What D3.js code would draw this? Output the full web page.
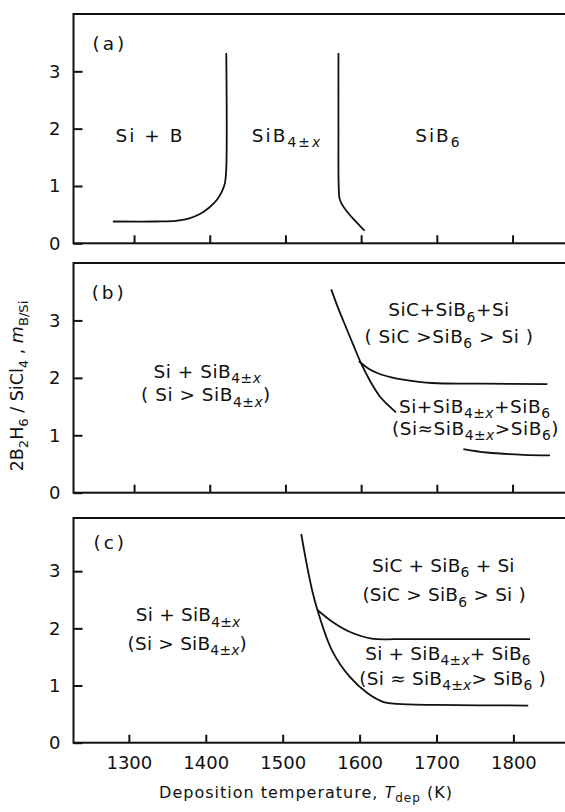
<!DOCTYPE html>
<html>
  <head>
    <meta http-equiv="Content-Type" content="text/html;charset=utf-8"/>
    <script type="text/javascript" src="https://cdn.jsdelivr.net/npm/d3@7"></script>
    <style type="text/css">
      body { margin: 0; background: #fff; }
      text { font-family: "DejaVu Sans", sans-serif; fill: #111; }
      .tick line { stroke: #111; stroke-width: 2; }
      .curve { fill: none; stroke: #111; stroke-width: 1.8; }
      .box { fill: none; stroke: #111; stroke-width: 2; }
    </style>
  </head>
  <body>
    <svg id="con" width="565" height="812"></svg>
    <script type="text/javascript">

    // tick values
    var xTicks = [1300, 1400, 1500, 1600, 1700, 1800];
    var yTicks = [0, 1, 2, 3];

    // (a) phase boundaries
    var aLeftT = [1272, 1330, 1355, 1372, 1387, 1399, 1409, 1416, 1420, 1421.8, 1421.8];
    var aLeftV = [0.38, 0.38, 0.39, 0.43, 0.51, 0.62, 0.75, 0.9, 1.05, 1.3, 3.32];
    var aRightT = [1570, 1570, 1570.3, 1571.5, 1575, 1581, 1590, 1598, 1604.5];
    var aRightV = [3.32, 2.0, 1.0, 0.78, 0.67, 0.56, 0.42, 0.31, 0.22];

    // (b) phase boundaries
    var bSteepT = [1560.5, 1570, 1580, 1590, 1600, 1612, 1625, 1636, 1646];
    var bSteepV = [3.54, 3.20, 2.88, 2.56, 2.25, 1.94, 1.67, 1.52, 1.40];
    var bUpperT = [1597, 1610, 1622, 1640, 1655.5, 1694, 1760, 1846];
    var bUpperV = [2.29, 2.16, 2.08, 2.01, 1.97, 1.91, 1.90, 1.89];
    var bLowerT = [1735, 1766, 1814, 1849.5];
    var bLowerV = [0.76, 0.70, 0.66, 0.65];

    // (c) phase boundaries
    var cSteepT = [1524.1, 1531, 1538.2, 1545.2, 1563.9, 1587.3, 1610.9, 1629.6, 1648.3, 1700, 1819.3];
    var cSteepV = [3.65, 3.14, 2.67, 2.32, 1.62, 1.15, 0.86, 0.72, 0.68, 0.66, 0.65];
    var cUpperT = [1545.2, 1564, 1587, 1615.5, 1648, 1720, 1821.7];
    var cUpperV = [2.32, 2.12, 1.94, 1.82, 1.81, 1.81, 1.81];

    // region labels: [text, style] pieces
    var SIB4 = [["SiB"], ["4", "sub"], ["±", "sub"], ["x", "subi"]];
    var SIB6 = [["SiB"], ["6", "sub"]];
    function cat() { return [].concat.apply([], arguments); }

    var panels = [
      {
        name: "(a)", tag: [1245, 3.48],
        curves: [[aLeftT, aLeftV], [aRightT, aRightV]],
        labels: [
          {at: [1321, 1.77], segs: [["Si + B"]]},
          {at: [1502, 1.77], segs: SIB4},
          {at: [1702, 1.77], segs: SIB6}
        ],
        spacing: 2
      },
      {
        name: "(b)", tag: [1244, 3.48],
        curves: [[bSteepT, bSteepV], [bUpperT, bUpperV], [bLowerT, bLowerV]],
        labels: [
          {at: [1716, 3.07], segs: cat([["SiC+SiB"], ["6", "sub"], ["+Si"]])},
          {at: [1716, 2.61], segs: cat([["( SiC >SiB"], ["6", "sub"], [" > Si )"]])},
          {at: [1397, 2.0], segs: cat([["Si + "]], SIB4)},
          {at: [1395, 1.59], segs: cat([["( Si > "]], SIB4, [[")"]])},
          {at: [1750, 1.39], segs: cat([["Si+"]], SIB4, [["+"]], SIB6)},
          {at: [1751, 1.01], segs: cat([["(Si≈"]], SIB4, [[">"]], SIB6, [[")"]])}
        ],
        spacing: 0.5
      },
      {
        name: "(c)", tag: [1254, 3.5],
        curves: [[cSteepT, cSteepV], [cUpperT, cUpperV]],
        labels: [
          {at: [1709, 2.99], segs: cat([["SiC + SiB"], ["6", "sub"], [" + Si"]])},
          {at: [1710, 2.47], segs: cat([["(SiC > SiB"], ["6", "sub"], [" > Si )"]])},
          {at: [1377, 2.12], segs: cat([["Si + "]], SIB4)},
          {at: [1376, 1.62], segs: cat([["(Si > "]], SIB4, [[")"]])},
          {at: [1715, 1.45], segs: cat([["Si + "]], SIB4, [["+ "]], SIB6)},
          {at: [1721, 1.01], segs: cat([["(Si ≈ "]], SIB4, [["> "]], SIB6, [[" )"]])}
        ],
        spacing: 0.2
      }
    ];

    // layout of each panel on the page (scan is slightly uneven)
    var tops = [14, 263, 518];
    var bottoms = [243.3, 492.7, 742.7];
    var xStart = [1220, 1220, 1228];
    var xEnd = [1870.6, 1870.6, 1868.4];
    var yMax = [4, 4, 3.93];
    var left = 73.5, right = 566;
    var fs = 18.5, tickFs = 18;

    var svg = d3.select("#con");

    function richText(sel, segs, size) {
      var shift = 0;
      segs.forEach(function(s) {
        var st = s[1] || "";
        var sub = st.indexOf("sub") === 0;
        var target = sub ? size * 0.28 : 0;
        var t = sel.append("tspan").attr("dy", target - shift).text(s[0]);
        shift = target;
        if (sub) t.attr("font-size", size * 0.75);
        if (st.slice(-1) === "i") t.attr("font-style", "italic");
      });
    }

    panels.forEach(function(p, i) {
      var x = d3.scaleLinear().domain([xStart[i], xEnd[i]]).range([left, right]);
      var y = d3.scaleLinear().domain([0, yMax[i]]).range([bottoms[i], tops[i]]);
      var g = svg.append("g");

      g.append("rect").attr("class", "box")
          .attr("x", left).attr("y", tops[i])
          .attr("width", right - left).attr("height", bottoms[i] - tops[i]);

      var xa = g.append("g")
          .attr("transform", "translate(0," + bottoms[i] + ")")
          .call(d3.axisBottom(x).tickValues(xTicks).tickFormat(d3.format("d"))
              .tickSizeInner(-8).tickSizeOuter(0).tickPadding(14));
      xa.select(".domain").remove();
      if (i < 2) xa.selectAll("text").remove();
      xa.selectAll("text").attr("font-size", tickFs).attr("font-family", null);

      var ya = g.append("g")
          .attr("transform", "translate(" + left + ",0)")
          .call(d3.axisLeft(y).tickValues(yTicks).tickFormat(d3.format("d"))
              .tickSizeInner(-9).tickSizeOuter(0).tickPadding(13));
      ya.select(".domain").remove();
      ya.selectAll("text").attr("font-size", tickFs).attr("font-family", null);

      var line = d3.line()
          .x(function(d) { return x(d[0]); })
          .y(function(d) { return y(d[1]); })
          .curve(d3.curveCatmullRom.alpha(0.5));

      p.curves.forEach(function(c) {
        g.append("path").attr("class", "curve")
            .attr("d", line(d3.zip(c[0], c[1])));
      });

      g.append("text")
          .attr("x", x(p.tag[0])).attr("y", y(p.tag[1])).attr("dy", "0.35em")
          .attr("font-size", fs).attr("letter-spacing", 3)
          .text(p.name);

      p.labels.forEach(function(l) {
        var t = g.append("text")
            .attr("x", x(l.at[0])).attr("y", y(l.at[1])).attr("dy", "0.35em")
            .attr("text-anchor", "middle")
            .attr("font-size", fs)
            .attr("letter-spacing", p.spacing);
        richText(t, l.segs, fs);
      });
    });

    // y axis title
    var yt = svg.append("text")
        .attr("transform", "translate(23,386) rotate(-90)")
        .attr("dy", "0.35em")
        .attr("text-anchor", "middle")
        .attr("font-size", 17.5);
    richText(yt, [["2B"], ["2", "sub"], ["H"], ["6", "sub"], [" / SiCl"], ["4", "sub"], [" , "], ["m", "i"], ["B/Si", "sub"]], 17.5);

    // x axis title
    var xt = svg.append("text")
        .attr("x", 306).attr("y", 798).attr("dy", "0.35em")
        .attr("text-anchor", "middle")
        .attr("font-size", 16)
        .attr("letter-spacing", 1);
    richText(xt, [["Deposition temperature,  "], ["T", "i"], ["dep", "sub"], [" (K)"]], 16);

    </script>
  </body>
</html>
